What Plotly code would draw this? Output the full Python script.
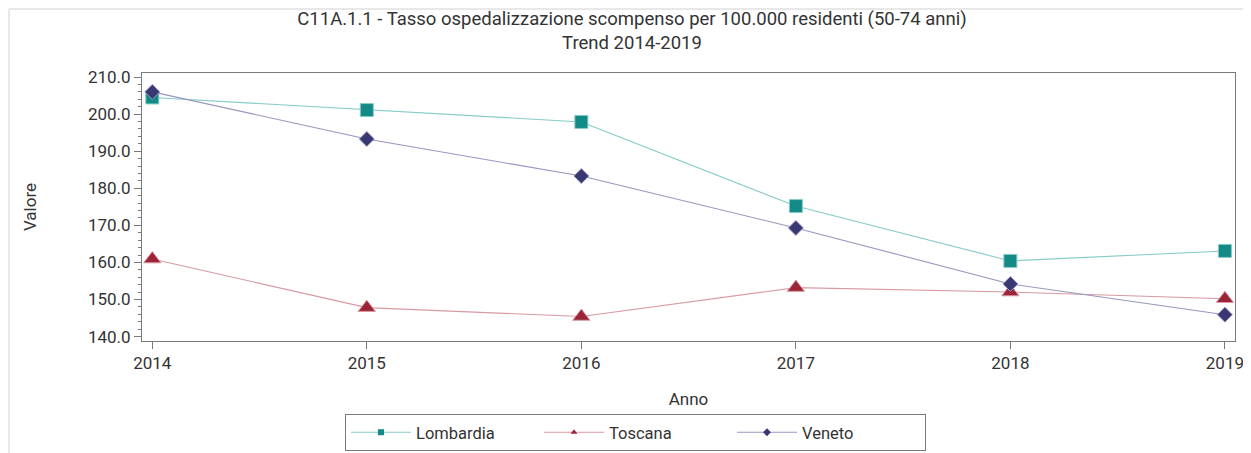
import plotly.graph_objects as go

years = [2014, 2015, 2016, 2017, 2018, 2019]
lombardia = [204.5, 201.1, 197.9, 175.2, 160.4, 163.1]
toscana = [160.9, 147.8, 145.4, 153.2, 152.0, 150.2]
veneto = [206.0, 193.3, 183.3, 169.3, 154.2, 145.9]
y_ticks = [140, 150, 160, 170, 180, 190, 200, 210]
y_labels = ["140.0", "150.0", "160.0", "170.0", "180.0", "190.0", "200.0", "210.0"]

series = [
    ("Lombardia", lombardia, "#138a86", "#86cbc7", "square", 13),
    ("Toscana", toscana, "#9b2438", "#d899a3", "triangle-up", 15),
    ("Veneto", veneto, "#393872", "#9796be", "diamond", 11.5),
]

FONT = "Roboto"
TXT = "#333333"
AX = "#7a7a7a"

W, H = 1243, 445
L, T, R, B = 134, 65, 16, 112
PW, PH = W - L - R, H - T - B

fig = go.Figure()
for name, vals, mcol, lcol, sym, sz in series:
    fig.add_trace(go.Scatter(
        x=years, y=vals, mode="lines+markers", name=name, showlegend=False,
        line=dict(color=lcol, width=1.1),
        marker=dict(symbol=sym, size=sz, color=mcol, line=dict(color=lcol, width=1)),
    ))
    fig.add_trace(go.Scatter(
        x=[None], y=[None], mode="lines+markers", name=name,
        line=dict(color=lcol, width=1.1),
        marker=dict(symbol=sym, size=6, color=mcol),
    ))

fig.update_layout(
    width=W, height=H,
    margin=dict(l=L, r=R, t=T, b=B, autoexpand=False),
    paper_bgcolor="white", plot_bgcolor="white",
    font=dict(family=FONT, color=TXT, size=17),
    title=dict(
        text="C11A.1.1 - Tasso ospedalizzazione scompenso per 100.000 residenti (50-74 anni)<br>Trend 2014-2019",
        x=624 / W, xref="container", xanchor="center", y=1 - 17 / H, yanchor="top",
        font=dict(family=FONT, size=18.5, color=TXT),
    ),
    xaxis=dict(
        range=[2013.952, 2019.047], tickvals=years, ticktext=[str(y) for y in years],
        showgrid=False, zeroline=False, showline=True, linecolor=AX, linewidth=1, mirror=True,
        ticks="outside", ticklen=7, tickcolor=AX, automargin=False, ticklabeloverflow="allow",
        tickfont=dict(size=17, color=TXT),
        title=dict(text="Anno", font=dict(size=17, color=TXT), standoff=20),
    ),
    yaxis=dict(
        range=[138.8, 211.1], tickvals=y_ticks, ticktext=y_labels,
        showgrid=False, zeroline=False, showline=True, linecolor=AX, linewidth=1, mirror=True,
        ticks="outside", ticklen=7, tickcolor=AX, automargin=False, ticklabeloverflow="allow",
        minor=dict(tickvals=[v for v in range(140, 211, 2) if v % 10 != 0],
                   ticks="outside", ticklen=3, tickcolor=AX),
        tickfont=dict(size=17, color=TXT),
        title=dict(text="Valore", font=dict(size=17, color=TXT), standoff=46),
    ),
    legend=dict(
        orientation="h", x=(337 - L) / PW, xanchor="left", y=-73 / PH, yanchor="top",
        bordercolor=AX, borderwidth=1, bgcolor="white",
        font=dict(size=16.5, color=TXT), entrywidth=118, entrywidthmode="pixels",
        itemwidth=60, traceorder="normal", tracegroupgap=0,
    ),
    shapes=[
        dict(type="line", xref="paper", yref="paper",
             x0=(1 - L) / PW, x1=(1 - L) / PW, y0=(T + PH - H) / PH, y1=(T + PH - 1) / PH,
             line=dict(color="#e8e8e8", width=2), layer="below"),
        dict(type="line", xref="paper", yref="paper",
             x0=(1 - L) / PW, x1=(W - L) / PW, y0=(T + PH - 1) / PH, y1=(T + PH - 1) / PH,
             line=dict(color="#e8e8e8", width=2), layer="below"),
    ],
)

fig.write_html("out.html")
